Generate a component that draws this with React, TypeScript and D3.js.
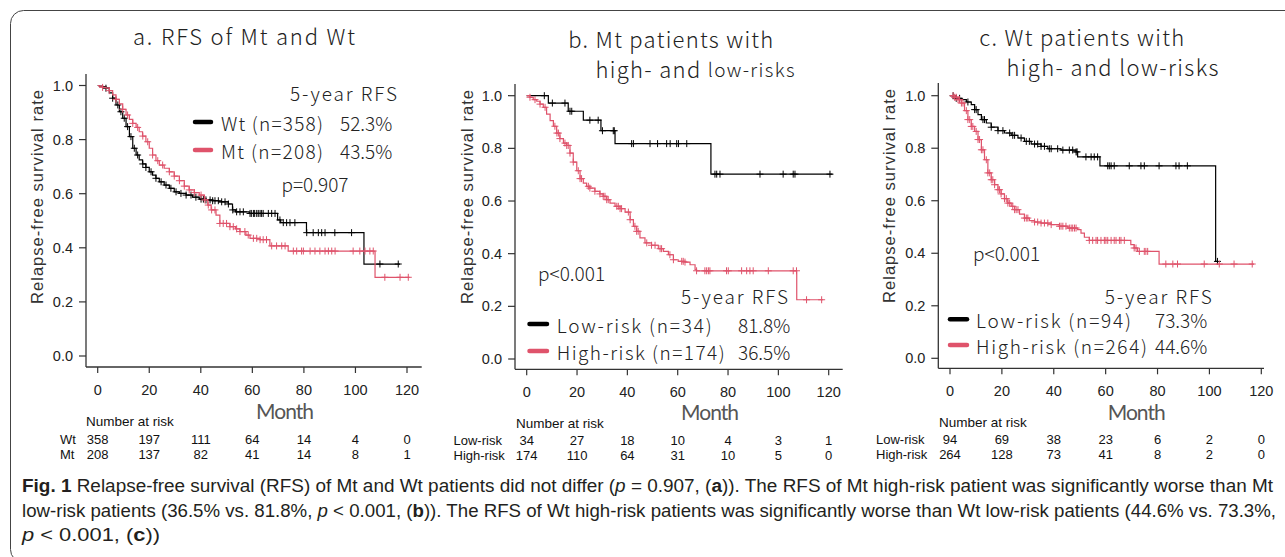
import React from 'react';
import * as d3 from 'd3';

// ---------- shared ticks ----------
const monthTicks = [0, 20, 40, 60, 80, 100, 120];
const survTicks = [0, 0.2, 0.4, 0.6, 0.8, 1.0];

// ---------- panel a : Wt vs Mt ----------
const wtTime = [0, 0.6, 1.9, 3.2, 4.5, 5.8, 7.1, 8.4, 9.7, 11, 12.3, 13.6, 14.9, 16.1, 17.4, 18.7, 20, 21.3, 22.6, 23.9, 25.8, 27.8, 29.7, 31.7, 34.3, 36.8, 39.4, 42, 44.6, 47, 50.7, 52.3, 53.5, 58.8, 69.8, 71, 81, 103.3];
const wtSurv = [1, 0.998, 0.996, 0.99, 0.973, 0.953, 0.928, 0.903, 0.879, 0.848, 0.811, 0.768, 0.743, 0.725, 0.71, 0.697, 0.681, 0.669, 0.657, 0.644, 0.632, 0.62, 0.607, 0.601, 0.595, 0.587, 0.58, 0.577, 0.574, 0.57, 0.562, 0.54, 0.533, 0.527, 0.503, 0.493, 0.456, 0.34];
const wtEnd = 117.3;
const wtCensor = [3.2, 5.8, 7.8, 9, 10.3, 11.6, 12.9, 14.2, 15.5, 17.5, 18.7, 20.7, 22.6, 24.6, 26.5, 28.4, 30.4, 32.3, 34.3, 36.2, 38.1, 40.1, 41, 42, 43.6, 44.6, 45.5, 46.8, 48.1, 49.4, 50.7, 52.4, 53.9, 55.2, 56.5, 59.1, 59.6, 60.4, 60.9, 61.7, 62.3, 63, 63.6, 64.2, 66.2, 67.5, 68.8, 70.7, 72, 73.3, 74.6, 76.5, 81.1, 83.6, 85.6, 86.9, 88.2, 92, 98.5, 109.5, 116.6];

const mtTime = [0, 0.6, 1.9, 3.2, 4.5, 5.8, 7.1, 8.4, 9.7, 11, 12.3, 13.6, 14.9, 16.1, 17.4, 18.7, 20, 21.3, 22.6, 23.9, 25.8, 27.8, 29.7, 31.7, 33.6, 35.5, 37.5, 39.4, 41.4, 42.7, 44, 45.9, 47.4, 51.3, 53.5, 55.2, 57.5, 59.1, 63, 66.8, 73.9, 107.6];
const mtSurv = [1, 0.998, 0.993, 0.99, 0.981, 0.965, 0.949, 0.932, 0.912, 0.891, 0.875, 0.86, 0.845, 0.829, 0.813, 0.792, 0.768, 0.743, 0.722, 0.706, 0.694, 0.681, 0.665, 0.648, 0.628, 0.614, 0.604, 0.595, 0.577, 0.558, 0.54, 0.521, 0.49, 0.478, 0.47, 0.46, 0.447, 0.435, 0.43, 0.407, 0.388, 0.291];
const mtEnd = 121;
const mtCensor = [1.9, 4.5, 7.1, 9.7, 11.6, 13.6, 15.5, 17.5, 19.4, 21.3, 23.3, 25.2, 27.8, 29.7, 31.7, 33.6, 35.5, 37.5, 40.1, 41.6, 42.9, 44.2, 45.5, 47.4, 48.7, 50, 51.3, 52.6, 53.9, 55.2, 57.1, 58.4, 60.4, 61.7, 63, 64.2, 65.5, 67.5, 69.4, 71.4, 72.7, 75.9, 77.2, 79.1, 79.8, 82.4, 84.3, 86.2, 88.2, 89.5, 90.8, 92.1, 99.1, 101.7, 103.7, 105.6, 106.9, 111.4, 117.3, 120.5];

// ---------- panel b : Mt low / high risk ----------
const mtLowTime = [0, 8.6, 16.5, 22.5, 29.5, 35.1, 73.2];
const mtLowSurv = [1, 0.972, 0.941, 0.907, 0.867, 0.818, 0.702];
const mtLowEnd = 121.5;
const mtLowCensor = [7, 10.2, 15.2, 17.2, 17.9, 25.1, 28.4, 30.1, 34.4, 34.8, 41.7, 42.4, 49, 52, 55.6, 57, 59.6, 60.3, 63.6, 74.8, 75.5, 76.8, 92.7, 101.9, 105.9, 106.6, 120.5];

const mtHighTime = [0, 1.3, 2.6, 4, 5.3, 6.6, 7.9, 9.3, 10.6, 11.9, 13.2, 14.6, 15.9, 17.2, 18.5, 19.9, 21.2, 22.5, 23.8, 25.1, 27.1, 29.1, 30.4, 31.8, 33.1, 35.1, 37.1, 39.1, 41.1, 42.4, 43.7, 45, 47, 49.6, 52.3, 54.3, 56.3, 58.3, 60.2, 62.9, 64.9, 66.9, 67.5, 107.3];
const mtHighSurv = [1, 0.994, 0.985, 0.979, 0.968, 0.956, 0.93, 0.905, 0.884, 0.858, 0.837, 0.82, 0.811, 0.782, 0.748, 0.715, 0.685, 0.668, 0.656, 0.649, 0.637, 0.627, 0.618, 0.605, 0.592, 0.58, 0.571, 0.558, 0.529, 0.504, 0.485, 0.46, 0.441, 0.432, 0.419, 0.409, 0.396, 0.377, 0.371, 0.368, 0.358, 0.339, 0.335, 0.225];
const mtHighEnd = 117.8;
const mtHighCensor = [1.3, 3.3, 5.3, 7.3, 11.2, 12, 12.6, 13.2, 15.2, 15.9, 16.5, 17.2, 18.5, 20.5, 21.2, 21.8, 24.5, 25.1, 27.1, 29.1, 30.4, 31.1, 31.8, 32.4, 35.8, 36.4, 37.1, 37.7, 40.4, 41.1, 43, 43.7, 44.3, 47.7, 49.6, 51, 53, 53.6, 56.9, 58.3, 61.6, 62.2, 62.9, 67.5, 70.8, 71.5, 72.2, 72.8, 79.4, 80.1, 85.4, 87.4, 88.7, 90, 96, 105.9, 107.2, 111.2, 117.2];

// ---------- panel c : Wt low / high risk ----------
const wtLowTime = [0, 2.4, 4.4, 6.3, 8.2, 9.5, 10.8, 12.1, 14, 15.9, 18.5, 21, 23.6, 26.2, 28.7, 31.3, 35.1, 37.7, 42.8, 48.6, 49.2, 57.8, 102.4];
const wtLowSurv = [1, 0.99, 0.985, 0.976, 0.966, 0.947, 0.928, 0.909, 0.896, 0.88, 0.867, 0.858, 0.849, 0.839, 0.826, 0.816, 0.807, 0.798, 0.793, 0.786, 0.767, 0.733, 0.369];
const wtLowEnd = 103.1;
const wtLowCensor = [1.2, 2.4, 3.7, 6.9, 9.5, 10.1, 12.7, 13.3, 15.9, 18.5, 20.4, 23, 24.2, 24.9, 27.4, 29.4, 30.6, 32.6, 33.8, 35.1, 36.4, 38.3, 39, 41.5, 43.5, 46, 47.3, 48.6, 49, 52.4, 54.4, 55.6, 56.9, 60.8, 61.4, 62.1, 63.3, 69.1, 73.6, 74.9, 80.6, 87.1, 88.3, 91.5, 103.1];

const wtHighTime = [0, 1.8, 3.1, 4.4, 5.6, 6.9, 8.2, 9.5, 10.8, 12.1, 13.3, 14.6, 15.9, 17.2, 18.5, 19.7, 21, 22.3, 23.6, 24.9, 26.8, 28.7, 30.6, 32.6, 35.1, 39, 42.2, 45.4, 49.2, 50.5, 51.8, 53.7, 69.7, 71, 72.3, 80.6];
const wtHighSurv = [1, 0.994, 0.985, 0.972, 0.943, 0.909, 0.883, 0.864, 0.833, 0.794, 0.756, 0.706, 0.68, 0.661, 0.642, 0.626, 0.608, 0.591, 0.579, 0.566, 0.549, 0.534, 0.524, 0.519, 0.515, 0.509, 0.503, 0.496, 0.49, 0.477, 0.461, 0.449, 0.433, 0.42, 0.407, 0.359];
const wtHighEnd = 117.2;
const wtHighCensor = [1.2, 1.8, 2.4, 3.1, 3.7, 4.4, 5, 6.3, 6.9, 7.6, 8.2, 8.8, 10.1, 10.8, 11.4, 12.1, 12.7, 14, 14.6, 15.3, 15.9, 16.5, 17.2, 18.5, 19.1, 19.7, 21, 21.7, 22.3, 23, 24.2, 24.9, 25.5, 26.2, 28.7, 29.4, 30, 32.6, 33.8, 35.1, 36.4, 37.7, 39, 42.2, 42.8, 43.5, 44.7, 46, 46.7, 47.3, 48, 48.6, 53.7, 55, 56.3, 56.9, 58.2, 59.5, 60.1, 60.8, 62.1, 63.3, 64, 65.3, 65.9, 67.2, 71, 71.7, 73, 74.9, 75.5, 76.2, 83.2, 85.9, 87.7, 98, 103.8, 109.5, 116.5];

// ---------- numbers at risk ----------
const riskWt = [358, 197, 111, 64, 14, 4, 0];
const riskMt = [208, 137, 82, 41, 14, 8, 1];
const riskMtLow = [34, 27, 18, 10, 4, 3, 1];
const riskMtHigh = [174, 110, 64, 31, 10, 5, 0];
const riskWtLow = [94, 69, 38, 23, 6, 2, 0];
const riskWtHigh = [264, 128, 73, 41, 8, 2, 0];

// ---------- labels ----------
const legendA = ['Wt (n=358)', 'Mt (n=208)'];
const pctA = ['52.3%', '43.5%'];
const legendB = ['Low-risk (n=34)', 'High-risk (n=174)'];
const pctB = ['81.8%', '36.5%'];
const legendC = ['Low-risk (n=94)', 'High-risk (n=264)'];
const pctC = ['73.3%', '44.6%'];

const BLACK = '#000000';
const RED = '#DF536B';
const JP = "'Noto Sans CJK JP', 'Noto Sans', sans-serif";
const JPW = 300;
const MONTHFONT = "Lato, 'Noto Sans', sans-serif";
const ARIAL = "'Liberation Sans', Arial, sans-serif";
const CAPFONT = "'Liberation Sans Narrow', 'Liberation Sans', Arial, sans-serif";

type Curve = { time: number[]; surv: number[]; end: number; censor: number[]; color: string };

function stepPoints(c: Curve): [number, number][] {
  const pts: [number, number][] = c.time.map((t, i) => [t, c.surv[i]]);
  pts.push([c.end, c.surv[c.surv.length - 1]]);
  return pts;
}
function survAt(c: Curve, t: number) {
  const i = d3.bisectRight(c.time, t) - 1;
  return c.surv[Math.max(0, i)];
}

type Layout = {
  x0: number; x120: number; y0: number; y1: number;
  axX: number; axTop: number; axY: number; axRight: number;
  xTickLabY: number; ylabX: number; ylabY: number;
  monthX: number; monthY: number;
  nrX: number; nrY: number; row1Y: number; row2Y: number; rowLabelX: number;
};

function KMPanel({ L, curves, rowNames, rows }: { L: Layout; curves: Curve[]; rowNames: string[]; rows: number[][] }) {
  const x = d3.scaleLinear().domain([0, 120]).range([L.x0, L.x120]);
  const y = d3.scaleLinear().domain([0, 1]).range([L.y0, L.y1]);
  const line = d3.line<[number, number]>().x(d => x(d[0])).y(d => y(d[1])).curve(d3.curveStepAfter);
  const axisColor = '#333';
  return (
    <g>
      {/* axes */}
      <line x1={L.axX} x2={L.axX} y1={L.axTop} y2={L.axY} stroke={axisColor} strokeWidth={1.3} />
      <line x1={L.axX} x2={L.axRight} y1={L.axY} y2={L.axY} stroke={axisColor} strokeWidth={1.3} />
      {survTicks.map(v => (
        <g key={'y' + v}>
          <line x1={L.axX - 7} x2={L.axX} y1={y(v)} y2={y(v)} stroke={axisColor} strokeWidth={1.2} />
          <text x={L.axX - 13} y={y(v)} textAnchor="end" dominantBaseline="central" fontFamily={ARIAL} fontSize={14.5} fill="#222">{v.toFixed(1)}</text>
        </g>
      ))}
      {monthTicks.map(v => (
        <g key={'x' + v}>
          <line x1={x(v)} x2={x(v)} y1={L.axY} y2={L.axY + 6} stroke={axisColor} strokeWidth={1.2} />
          <text x={x(v)} y={L.xTickLabY - 1.2} textAnchor="middle" dominantBaseline="central" fontFamily={ARIAL} fontSize={14.5} fill="#222">{v}</text>
        </g>
      ))}
      <text transform={`translate(${L.ylabX},${L.ylabY}) rotate(-90)`} textAnchor="middle" dominantBaseline="central" fontFamily={ARIAL} fontSize={16.5} fill="#333" textLength={214} lengthAdjust="spacing">Relapse-free survival rate</text>
      <text x={L.monthX} y={L.monthY + 2.5} textAnchor="middle" dominantBaseline="central" fontFamily={MONTHFONT} fontWeight={400} fontSize={21} fill="#555" textLength={58} lengthAdjust="spacing">Month</text>
      {/* curves */}
      {curves.map((c, ci) => (
        <g key={'c' + ci}>
          <path d={line(stepPoints(c)) || ''} fill="none" stroke={c.color} strokeWidth={1.2} />
          <path
            d={c.censor.map(t => { const cx = x(t), cy = y(survAt(c, t)); return `M${cx - 3.5},${cy}h7M${cx},${cy - 3.5}v7`; }).join('')}
            fill="none" stroke={c.color} strokeWidth={1} />
        </g>
      ))}
      {/* numbers at risk */}
      <text x={L.nrX} y={L.nrY} dominantBaseline="central" fontFamily={ARIAL} fontSize={13.5} fill="#111">Number at risk</text>
      {rows.map((r, ri) => {
        const ry = ri === 0 ? L.row1Y - 1.5 : L.row2Y + 1.5;
        return (
          <g key={'r' + ri}>
            <text x={L.rowLabelX} y={ry} dominantBaseline="central" fontFamily={ARIAL} fontSize={13} fill="#111">{rowNames[ri]}</text>
            {r.map((n, k) => (
              <text key={k} x={x(monthTicks[k])} y={ry} textAnchor="middle" dominantBaseline="central" fontFamily={ARIAL} fontSize={13} fill="#111">{n}</text>
            ))}
          </g>
        );
      })}
    </g>
  );
}

const LA: Layout = { x0: 97.7, x120: 407, y0: 356, y1: 85.5, axX: 86, axTop: 74, axY: 367, axRight: 421.7, xTickLabY: 391, ylabX: 37, ylabY: 197, monthX: 285, monthY: 408, nrX: 86, nrY: 421.7, row1Y: 441, row2Y: 453, rowLabelX: 60 };
const LB: Layout = { x0: 526.7, x120: 828.7, y0: 359, y1: 95.7, axX: 515, axTop: 84, axY: 369.3, axRight: 842.7, xTickLabY: 393.3, ylabX: 466.7, ylabY: 197, monthX: 710, monthY: 409.3, nrX: 516, nrY: 423, row1Y: 442, row2Y: 454, rowLabelX: 453.5 };
const LC: Layout = { x0: 950, x120: 1261.3, y0: 358.3, y1: 95.7, axX: 938.3, axTop: 83, axY: 368.3, axRight: 1264, xTickLabY: 392.3, ylabX: 889, ylabY: 196, monthX: 1136.7, monthY: 409.3, nrX: 939, nrY: 422.7, row1Y: 441, row2Y: 452.7, rowLabelX: 876 };

function Legend({ lineX1, lineX2, labelX, pctX, ys, labels, pcts, widths }: { lineX1: number; lineX2: number; labelX: number; pctX: number; ys: number[]; labels: string[]; pcts: string[]; widths: number[] }) {
  const colors = [BLACK, RED];
  return (
    <g>
      {ys.map((yy, i) => (
        <g key={i}>
          <line x1={lineX1} x2={lineX2} y1={yy} y2={yy} stroke={colors[i]} strokeWidth={4.5} strokeLinecap="round" />
          <text x={labelX} y={yy} dominantBaseline="central" fontFamily={JP} fontWeight={JPW} fontSize={19} fill="#222" textLength={widths[i]} lengthAdjust="spacing">{labels[i]}</text>
          <text x={pctX} y={yy} dominantBaseline="central" fontFamily={JP} fontWeight={JPW} fontSize={19} fill="#222">{pcts[i]}</text>
        </g>
      ))}
    </g>
  );
}

export default function App() {
  const a: Curve[] = [
    { time: wtTime, surv: wtSurv, end: wtEnd, censor: wtCensor, color: BLACK },
    { time: mtTime, surv: mtSurv, end: mtEnd, censor: mtCensor, color: RED },
  ];
  const b: Curve[] = [
    { time: mtLowTime, surv: mtLowSurv, end: mtLowEnd, censor: mtLowCensor, color: BLACK },
    { time: mtHighTime, surv: mtHighSurv, end: mtHighEnd, censor: mtHighCensor, color: RED },
  ];
  const c: Curve[] = [
    { time: wtLowTime, surv: wtLowSurv, end: wtLowEnd, censor: wtLowCensor, color: BLACK },
    { time: wtHighTime, surv: wtHighSurv, end: wtHighEnd, censor: wtHighCensor, color: RED },
  ];
  const titleProps = { fontFamily: JP, fontWeight: JPW, fontSize: 22, fill: '#222', textAnchor: 'middle' as const, dominantBaseline: 'central' as const };
  const annProps = { fontFamily: JP, fontWeight: JPW, fontSize: 19, fill: '#222', dominantBaseline: 'central' as const };
  const capProps = { fontFamily: CAPFONT, fontSize: 17.5, fill: '#231f20', dominantBaseline: 'central' as const, lengthAdjust: 'spacingAndGlyphs' as const };
  return (
    <svg width={1285} height={557} style={{ position: 'absolute', left: 0, top: 0, background: '#fff' }}>
      <rect x={0} y={0} width={1285} height={557} fill="#fff" />
      <rect x={10.5} y={10.5} width={1300} height={552} rx={13} fill="none" stroke="#444" strokeWidth={1} />

      {/* titles */}
      <text x={244} y={35} {...titleProps} textLength={222} lengthAdjust="spacing">a. RFS of Mt and Wt</text>
      <text x={670.8} y={37.5} {...titleProps} textLength={205} lengthAdjust="spacing">b. Mt patients with</text>
      <text x={695} y={68} {...titleProps} textLength={199} lengthAdjust="spacing">high- and <tspan fontSize={19}>low-risks</tspan></text>
      <text x={1081.7} y={35.5} {...titleProps} textLength={205} lengthAdjust="spacing">c. Wt patients with</text>
      <text x={1112.5} y={66} {...titleProps} textLength={212} lengthAdjust="spacing">high- and low-risks</text>

      <KMPanel L={LA} curves={a} rowNames={['Wt', 'Mt']} rows={[riskWt, riskMt]} />
      <KMPanel L={LB} curves={b} rowNames={['Low-risk', 'High-risk']} rows={[riskMtLow, riskMtHigh]} />
      <KMPanel L={LC} curves={c} rowNames={['Low-risk', 'High-risk']} rows={[riskWtLow, riskWtHigh]} />

      {/* panel a annotations */}
      <text x={397} y={92} textAnchor="end" {...annProps} textLength={107} lengthAdjust="spacing">5-year RFS</text>
      <Legend lineX1={195} lineX2={211} labelX={221} pctX={340} ys={[122, 150]} labels={legendA} pcts={pctA} widths={[102, 102]} />
      <text x={315} y={183} textAnchor="middle" {...annProps}>p=0.907</text>

      {/* panel b annotations */}
      <text x={538} y={272} {...annProps}>p&lt;0.001</text>
      <text x={788} y={295} textAnchor="end" {...annProps} textLength={107} lengthAdjust="spacing">5-year RFS</text>
      <Legend lineX1={529.5} lineX2={547} labelX={556.7} pctX={738} ys={[324, 351]} labels={legendB} pcts={pctB} widths={[155, 168]} />

      {/* panel c annotations */}
      <text x={973} y={252} {...annProps}>p&lt;0.001</text>
      <text x={1211.7} y={295} textAnchor="end" {...annProps} textLength={107} lengthAdjust="spacing">5-year RFS</text>
      <Legend lineX1={950} lineX2={967} labelX={976} pctX={1155} ys={[319.3, 345]} labels={legendC} pcts={pctC} widths={[155, 171]} />

      {/* caption */}
      <text x={22} y={486} {...capProps} textLength={1251}>
        <tspan fontWeight="bold">Fig. 1</tspan>{'  Relapse-free survival (RFS) of Mt and Wt patients did not differ ('}<tspan fontStyle="italic">p</tspan>{' = 0.907, ('}<tspan fontWeight="bold">a</tspan>{')). The RFS of Mt high-risk patient was significantly worse than Mt'}
      </text>
      <text x={22} y={511} {...capProps} textLength={1254}>
        {'low-risk patients (36.5% vs. 81.8%, '}<tspan fontStyle="italic">p</tspan>{' < 0.001, ('}<tspan fontWeight="bold">b</tspan>{')). The RFS of Wt high-risk patients was significantly worse than Wt low-risk patients (44.6% vs. 73.3%,'}
      </text>
      <text x={22} y={535} {...capProps} textLength={138}>
        <tspan fontStyle="italic">p</tspan>{' < 0.001, ('}<tspan fontWeight="bold">c</tspan>{'))'}
      </text>
    </svg>
  );
}
